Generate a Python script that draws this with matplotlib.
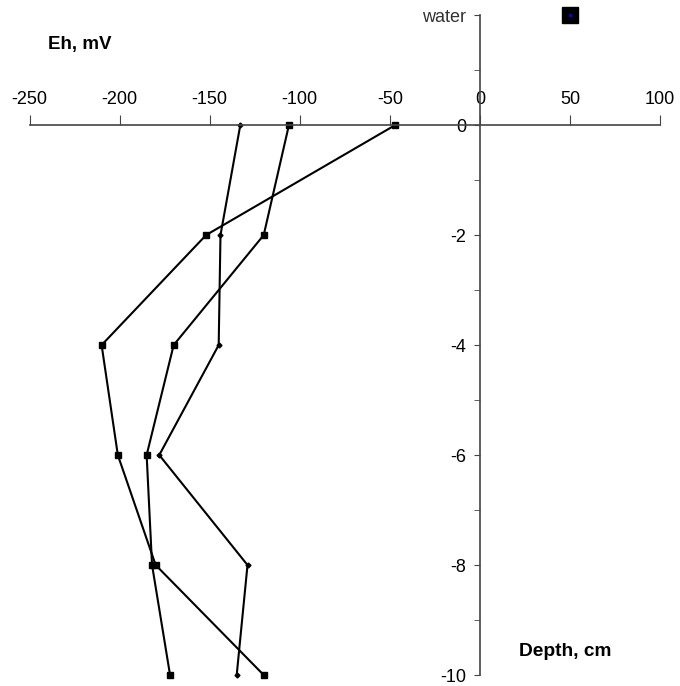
import matplotlib
matplotlib.use("Agg")
import matplotlib.pyplot as plt
from matplotlib.ticker import FixedLocator, FixedFormatter

plt.rcParams['font.family'] = ['Liberation Sans', 'DejaVu Sans']

# depth levels (cm) and redox potential profiles (mV)
depth = [0, -2, -4, -6, -8, -10]
eh_a = [-133, -144, -145, -178, -129, -135]
eh_b = [-106, -120, -170, -185, -182, -172]
eh_c = [-47, -152, -210, -201, -180, -120]

# surface water reading
water_eh = 50
water_level = 2

xticks = [-250, -200, -150, -100, -50, 0, 50, 100]
yticks = [-10, -8, -6, -4, -2, 0, 2]
ylabels = ['-10', '-8', '-6', '-4', '-2', '0', 'water']

fig = plt.figure(figsize=(6.8, 6.86), dpi=100)
ax = fig.add_axes([0.0435, 0.016, 0.927, 0.962])

ax.plot(eh_a, depth, color='black', lw=1.5, marker='D', ms=2.5, clip_on=False)
ax.plot(eh_b, depth, color='black', lw=1.5, marker='s', ms=4, clip_on=False)
ax.plot(eh_c, depth, color='black', lw=1.5, marker='s', ms=4, clip_on=False)

ax.plot([water_eh], [water_level], marker='s', ms=11, color='black', ls='none', clip_on=False)
ax.plot([water_eh], [water_level], marker='s', ms=1.5, color='blue', ls='none', clip_on=False)

ax.set_xlim(-250, 100)
ax.set_ylim(-10, 2)

# cross-shaped axes through the origin
ax.spines['bottom'].set_visible(False)
ax.spines['right'].set_visible(False)
ax.spines['top'].set_position(('data', 0))
ax.spines['left'].set_position(('data', 0))
for s in ['top', 'left']:
    ax.spines[s].set_color('#444444')
    ax.spines[s].set_linewidth(1.2)

ax.xaxis.set_ticks_position('top')
ax.xaxis.set_major_locator(FixedLocator(xticks))
ax.xaxis.set_major_formatter(FixedFormatter([str(t) for t in xticks]))
ax.tick_params(axis='x', direction='out', length=7, pad=5, labelsize=13,
               color='#444444', labelcolor='black')

ax.yaxis.set_major_locator(FixedLocator(yticks))
ax.yaxis.set_major_formatter(FixedFormatter(ylabels))
ax.yaxis.set_minor_locator(FixedLocator([-9, -7, -5, -3, -1, 1]))
ax.tick_params(axis='y', which='both', direction='out', length=4, pad=6,
               labelsize=13, color='#444444', labelcolor='black')
ax.get_yticklabels()[-1].set_color('#333333')

ax.text(-240, 1.47, 'Eh, mV', fontsize=13.5, fontweight='bold', ha='left', va='center')
ax.text(22, -9.57, 'Depth, cm', fontsize=13.8, fontweight='bold', ha='left', va='center')

fig.savefig('out.png', dpi=100)
